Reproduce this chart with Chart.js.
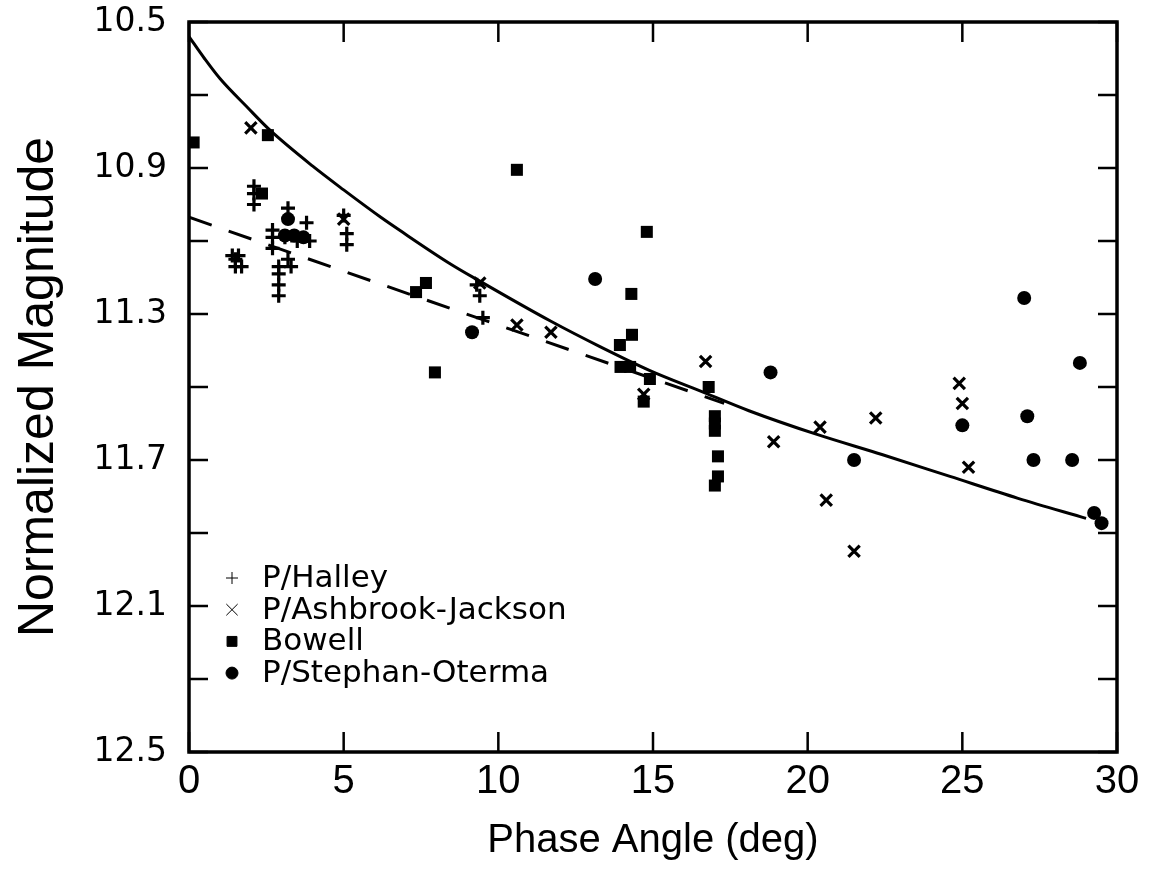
<!DOCTYPE html>
<html>
<head>
<meta charset="utf-8">
<title>Normalized Magnitude vs Phase Angle</title>
<script src="https://cdn.jsdelivr.net/npm/chart.js@4.4.1/dist/chart.umd.min.js"></script>
<style>
    html, body { margin: 0; padding: 0; background: #fff; }
    #wrap { width: 1151px; height: 890px; }
</style>
</head>
<body>
<div id="wrap"><canvas id="phaseChart" width="1151" height="890"></canvas></div>
<script>
// [phase angle (deg), normalized magnitude]
const halley = [
    [1.4, 11.14], [1.5, 11.15], [1.6, 11.14], [1.7, 11.17], [1.5, 11.17],
    [2.1, 10.95], [2.1, 10.97], [2.1, 11.0],
    [2.7, 11.07], [2.7, 11.09], [2.7, 11.12],
    [2.9, 11.17], [2.9, 11.19], [2.9, 11.22], [2.9, 11.25],
    [3.2, 11.01], [3.2, 11.15], [3.3, 11.17], [3.1, 11.09], [3.5, 11.1],
    [3.8, 11.05], [3.9, 11.1],
    [5.0, 11.03], [5.1, 11.08], [5.1, 11.11],
    [9.3, 11.22], [9.4, 11.25], [9.5, 11.31]
];
const ashbrookJackson = [
    [2.0, 10.79], [5.0, 11.04], [9.4, 11.215], [10.6, 11.33], [11.7, 11.35],
    [14.7, 11.52], [16.7, 11.43], [18.9, 11.65], [20.4, 11.61], [20.6, 11.81],
    [21.5, 11.95], [22.2, 11.585], [24.9, 11.49], [25.0, 11.545], [25.2, 11.72]
];
const bowell = [
    [0.15, 10.83], [2.36, 10.97], [2.55, 10.81], [7.34, 11.24], [7.66, 11.215],
    [7.95, 11.46], [10.6, 10.905], [13.93, 11.385], [13.95, 11.445], [14.26, 11.445],
    [14.32, 11.357], [14.3, 11.245], [14.8, 11.075], [14.9, 11.478], [14.7, 11.54],
    [16.8, 11.5], [17.0, 11.58], [17.0, 11.6], [17.0, 11.62], [17.1, 11.69],
    [17.1, 11.745], [17.0, 11.77]
];
const stephanOterma = [
    [3.2, 11.04], [3.1, 11.085], [3.4, 11.085], [3.7, 11.09], [9.15, 11.35],
    [13.13, 11.204], [18.8, 11.46], [21.5, 11.7], [25.0, 11.605], [27.0, 11.256],
    [27.1, 11.58], [27.3, 11.7], [28.55, 11.7], [28.8, 11.434], [29.26, 11.845],
    [29.5, 11.873]
];
// fitted curves
const solidFit = [
    [0, 10.54], [0.5, 10.6], [1.0, 10.655], [1.9, 10.735], [2.6, 10.795],
    [4.0, 10.895], [5.0, 10.96], [6.2, 11.035], [6.8, 11.07], [8.4, 11.16],
    [9.4, 11.21], [11.7, 11.32], [13.3, 11.39], [14.9, 11.455], [16.5, 11.51],
    [18.1, 11.565], [20.3, 11.63], [22.4, 11.685], [24.6, 11.745], [26.8, 11.805],
    [29.0, 11.86]
];
const dashedFit = [[0, 11.035], [8.8, 11.295], [17.3, 11.545]];

const xTicks = [0, 5, 10, 15, 20, 25, 30];
const yTicks = [10.5, 10.7, 10.9, 11.1, 11.3, 11.5, 11.7, 11.9, 12.1, 12.3, 12.5];
const yLabelled = ['10.5', '10.9', '11.3', '11.7', '12.1', '12.5'];

const toXY = arr => arr.map(p => ({x: p[0], y: p[1]}));

// box + inward tick marks on all four sides
const frameTicks = {
    id: 'frameTicks',
    afterDatasetsDraw(chart) {
        const {ctx, chartArea: a, scales: {x, y}} = chart;
        ctx.save();
        ctx.strokeStyle = '#000';
        ctx.lineWidth = 3.5;
        ctx.strokeRect(a.left, a.top, a.right - a.left, a.bottom - a.top);
        ctx.lineWidth = 2.5;
        ctx.beginPath();
        yTicks.forEach(v => {
            const py = y.getPixelForValue(v);
            ctx.moveTo(a.left, py); ctx.lineTo(a.left + 19, py);
            ctx.moveTo(a.right, py); ctx.lineTo(a.right - 19, py);
        });
        xTicks.forEach(v => {
            const px = x.getPixelForValue(v);
            ctx.moveTo(px, a.bottom); ctx.lineTo(px, a.bottom - 20);
            ctx.moveTo(px, a.top); ctx.lineTo(px, a.top + 20);
        });
        ctx.stroke();
        ctx.restore();
    }
};

// legend sits inside the plot, lower left
const insetLegend = {
    id: 'insetLegend',
    afterDraw(chart) {
        const {ctx, chartArea: a} = chart;
        ctx.save();
        ctx.font = '31px "DejaVu Sans"';
        ctx.textBaseline = 'middle';
        ctx.fillStyle = '#000';
        ctx.strokeStyle = '#000';
        chart.data.datasets.filter(d => d.legendRadius).forEach((d, i) => {
            const cy = a.top + 556 + i * 31.7;
            Chart.helpers.drawPoint(ctx, {
                pointStyle: d.pointStyle,
                radius: d.legendRadius,
                borderWidth: 2.5,
                rotation: 0
            }, a.left + 43, cy);
            ctx.fillText(d.label, a.left + 73, cy + 1);
        });
        ctx.restore();
    }
};

const ctx = document.getElementById('phaseChart').getContext('2d');
new Chart(ctx, {
    type: 'scatter',
    data: {
        datasets: [
            {
                label: 'P/Halley',
                data: toXY(halley),
                pointStyle: 'cross',
                pointRadius: 7,
                borderWidth: 3.2,
                borderColor: '#000',
                backgroundColor: '#000',
                legendRadius: 6
            },
            {
                label: 'P/Ashbrook-Jackson',
                data: toXY(ashbrookJackson),
                pointStyle: 'crossRot',
                pointRadius: 8,
                borderWidth: 3.2,
                borderColor: '#000',
                backgroundColor: '#000',
                legendRadius: 8
            },
            {
                label: 'Bowell',
                data: toXY(bowell),
                pointStyle: 'rect',
                pointRadius: 8.5,
                borderWidth: 0,
                backgroundColor: '#000',
                legendRadius: 7
            },
            {
                label: 'P/Stephan-Oterma',
                data: toXY(stephanOterma),
                pointStyle: 'circle',
                pointRadius: 7,
                borderWidth: 0,
                backgroundColor: '#000',
                legendRadius: 6
            },
            {
                type: 'line',
                label: 'fit',
                data: toXY(solidFit),
                borderColor: '#000',
                borderWidth: 3,
                pointRadius: 0,
                cubicInterpolationMode: 'monotone',
                fill: false
            },
            {
                type: 'line',
                label: 'linear fit',
                data: toXY(dashedFit),
                borderColor: '#000',
                borderWidth: 3,
                borderDash: [24, 18],
                pointRadius: 0,
                fill: false
            }
        ]
    },
    options: {
        responsive: false,
        animation: false,
        devicePixelRatio: 1,
        events: [],
        layout: { padding: { left: 0, right: 34, top: 22, bottom: 0 } },
        plugins: {
            legend: { display: false },
            tooltip: { enabled: false }
        },
        scales: {
            x: {
                type: 'linear',
                min: 0,
                max: 30,
                afterBuildTicks: axis => { axis.ticks = xTicks.map(v => ({value: v})); },
                afterFit: axis => { axis.height = 138; },
                grid: { display: false },
                border: { display: false },
                ticks: {
                    color: '#000',
                    padding: -2,
                    maxRotation: 0,
                    font: { family: '"Liberation Sans"', size: 40 },
                    callback: v => String(v)
                },
                title: {
                    display: true,
                    text: 'Phase Angle (deg)',
                    color: '#000',
                    padding: { top: 0, bottom: 25 },
                    font: { family: '"Liberation Sans"', size: 40 }
                }
            },
            y: {
                type: 'linear',
                reverse: true,
                min: 10.5,
                max: 12.5,
                afterBuildTicks: axis => { axis.ticks = yTicks.map(v => ({value: v})); },
                afterFit: axis => {
                    axis.width = 189;
                    axis.paddingTop = 0;
                    axis.paddingBottom = 0;
                },
                grid: { display: false },
                border: { display: false },
                ticks: {
                    color: '#000',
                    padding: 14,
                    font: { family: '"DejaVu Sans"', size: 33 },
                    callback: v => {
                        const s = v.toFixed(1);
                        return yLabelled.includes(s) ? s : '';
                    }
                },
                title: {
                    display: true,
                    text: 'Normalized Magnitude',
                    color: '#000',
                    padding: { top: 9, bottom: 0 },
                    font: { family: '"Liberation Sans"', size: 50 }
                }
            }
        }
    },
    plugins: [frameTicks, insetLegend]
});
</script>
</body>
</html>
